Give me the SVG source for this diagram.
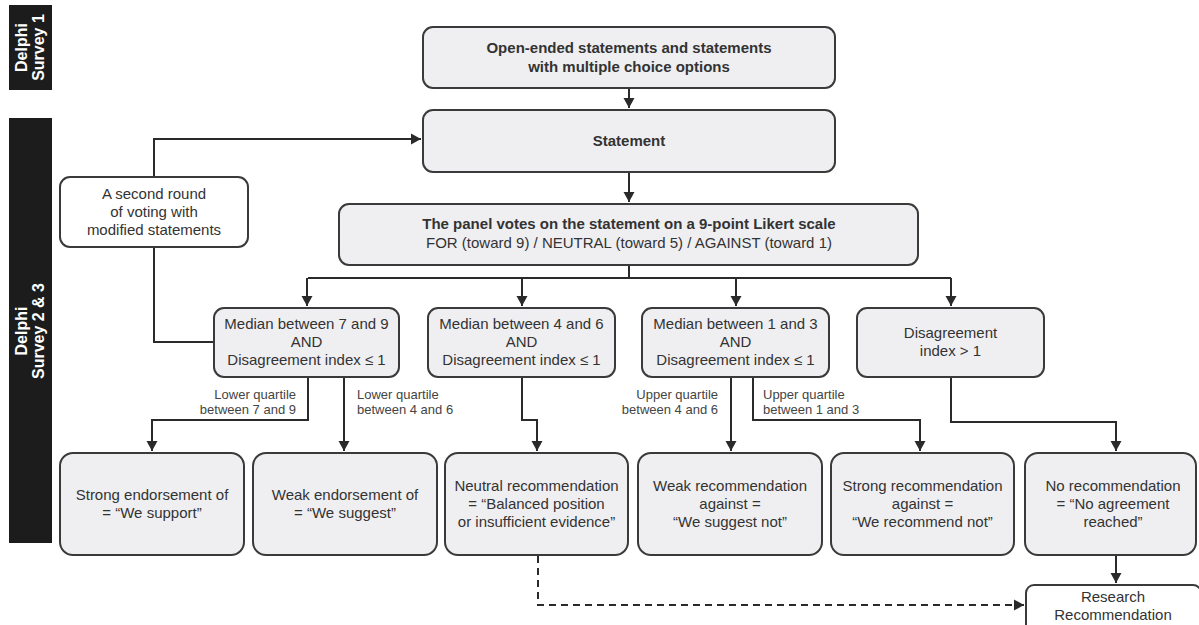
<svg xmlns="http://www.w3.org/2000/svg" width="1199" height="625" viewBox="0 0 1199 625">
<style>
.box{fill:#efeff2;stroke:#3a3a3a;stroke-width:2}
.wbox{fill:#ffffff;stroke:#3a3a3a;stroke-width:2}
.bar{fill:#1c1c1c}
.t{font-family:"Liberation Sans",Arial,sans-serif;font-size:15px;fill:#333;text-anchor:middle}
.b{font-weight:bold}
.bt{font-family:"Liberation Sans",Arial,sans-serif;font-size:16px;font-weight:bold;fill:#fff;text-anchor:middle}
.lbl{font-family:"Liberation Sans",Arial,sans-serif;font-size:13px;fill:#444}
.c{fill:none;stroke:#2a2a2a;stroke-width:2}
.d{fill:none;stroke:#2a2a2a;stroke-width:2;stroke-dasharray:7,5}
</style>
<defs>
<marker id="ah" markerUnits="userSpaceOnUse" markerWidth="12" markerHeight="12" refX="10" refY="6" orient="auto">
<path d="M0,0.5 L10,6 L0,11.5 z" fill="#2a2a2a"/>
</marker>
</defs>
<rect width="1199" height="625" fill="#fff"/>

<g id="bar1">
<rect class="bar" x="9" y="5" width="43" height="85"/>
<text class="bt" transform="translate(30,47.5) rotate(-90)"><tspan x="0" y="-3.5">Delphi</tspan><tspan x="0" y="13.5">Survey 1</tspan></text>
</g>
<g id="bar2">
<rect class="bar" x="9" y="118" width="43" height="425"/>
<text class="bt" transform="translate(30,331) rotate(-90)"><tspan x="0" y="-3.5">Delphi</tspan><tspan x="0" y="13.5">Survey 2 &amp; 3</tspan></text>
</g>

<g id="connectors">
<path class="c" d="M629 88 V108" marker-end="url(#ah)"/>
<path class="c" d="M629 172 V202" marker-end="url(#ah)"/>
<path class="c" d="M629 265 V278 M308 278 H951"/>
<path class="c" d="M307 278 V306" marker-end="url(#ah)"/>
<path class="c" d="M522 278 V306" marker-end="url(#ah)"/>
<path class="c" d="M736 278 V306" marker-end="url(#ah)"/>
<path class="c" d="M951 278 V306" marker-end="url(#ah)"/>
<path class="c" d="M213 342 H154 V247"/>
<path class="c" d="M154 177 V139 H421" marker-end="url(#ah)"/>
<path class="c" d="M308 377 V420 H152 V451" marker-end="url(#ah)"/>
<path class="c" d="M344 377 V451" marker-end="url(#ah)"/>
<path class="c" d="M522 377 V420 H537 V451" marker-end="url(#ah)"/>
<path class="c" d="M731 377 V451" marker-end="url(#ah)"/>
<path class="c" d="M753 377 V420 H920 V451" marker-end="url(#ah)"/>
<path class="c" d="M951 377 V422 H1116 V451" marker-end="url(#ah)"/>
<path class="c" d="M1116 555 V583" marker-end="url(#ah)"/>
<path class="d" d="M538 556 V605 H1024" marker-end="url(#ah)"/>
</g>

<g id="labels">
<text class="lbl" text-anchor="end" x="296" y="399">Lower quartile</text>
<text class="lbl" text-anchor="end" x="296" y="414">between 7 and 9</text>
<text class="lbl" x="357" y="399">Lower quartile</text>
<text class="lbl" x="357" y="414">between 4 and 6</text>
<text class="lbl" text-anchor="end" x="718" y="399">Upper quartile</text>
<text class="lbl" text-anchor="end" x="718" y="414">between 4 and 6</text>
<text class="lbl" x="763" y="399">Upper quartile</text>
<text class="lbl" x="763" y="414">between 1 and 3</text>
</g>

<g id="n-open">
<rect class="box" x="423" y="27" width="412" height="61" rx="10"/>
<text class="t b" x="629" y="53">Open-ended statements and statements</text>
<text class="t b" x="629" y="72">with multiple choice options</text>
</g>
<g id="n-statement">
<rect class="box" x="423" y="110" width="412" height="62" rx="10"/>
<text class="t b" x="629" y="146">Statement</text>
</g>
<g id="n-second">
<rect class="wbox" x="60" y="177" width="188" height="70" rx="10"/>
<text class="t" x="154" y="199">A second round</text>
<text class="t" x="154" y="217">of voting with</text>
<text class="t" x="154" y="235">modified statements</text>
</g>
<g id="n-panel">
<rect class="box" x="339" y="204" width="579" height="61" rx="10"/>
<text class="t b" x="629" y="229">The panel votes on the statement on a 9-point Likert scale</text>
<text class="t" x="629" y="248">FOR (toward 9) / NEUTRAL (toward 5) / AGAINST (toward 1)</text>
</g>
<g id="n-med79">
<rect class="box" x="214" y="308" width="185" height="69" rx="10"/>
<text class="t" x="306.5" y="329">Median between 7 and 9</text>
<text class="t" x="306.5" y="347">AND</text>
<text class="t" x="306.5" y="365">Disagreement index ≤ 1</text>
</g>
<g id="n-med46">
<rect class="box" x="428" y="308" width="187" height="69" rx="10"/>
<text class="t" x="521.5" y="329">Median between 4 and 6</text>
<text class="t" x="521.5" y="347">AND</text>
<text class="t" x="521.5" y="365">Disagreement index ≤ 1</text>
</g>
<g id="n-med13">
<rect class="box" x="642" y="308" width="187" height="69" rx="10"/>
<text class="t" x="735.5" y="329">Median between 1 and 3</text>
<text class="t" x="735.5" y="347">AND</text>
<text class="t" x="735.5" y="365">Disagreement index ≤ 1</text>
</g>
<g id="n-disagree">
<rect class="box" x="857" y="308" width="187" height="69" rx="10"/>
<text class="t" x="950.5" y="338">Disagreement</text>
<text class="t" x="950.5" y="356">index &gt; 1</text>
</g>
<g id="n-strong-end">
<rect class="box" x="60" y="453" width="184" height="102" rx="13"/>
<text class="t" x="152" y="500">Strong endorsement of</text>
<text class="t" x="152" y="518">= “We support”</text>
</g>
<g id="n-weak-end">
<rect class="box" x="253" y="453" width="184" height="102" rx="13"/>
<text class="t" x="345" y="500">Weak endorsement of</text>
<text class="t" x="345" y="518">= “We suggest”</text>
</g>
<g id="n-neutral">
<rect class="box" x="445" y="453" width="183" height="102" rx="13"/>
<text class="t" x="536.5" y="491">Neutral recommendation</text>
<text class="t" x="536.5" y="509">= “Balanced position</text>
<text class="t" x="536.5" y="527">or insufficient evidence”</text>
</g>
<g id="n-weak-rec">
<rect class="box" x="638" y="453" width="184" height="102" rx="13"/>
<text class="t" x="730" y="491">Weak recommendation</text>
<text class="t" x="730" y="509">against =</text>
<text class="t" x="730" y="527">“We suggest not”</text>
</g>
<g id="n-strong-rec">
<rect class="box" x="831" y="453" width="183" height="102" rx="13"/>
<text class="t" x="922.5" y="491">Strong recommendation</text>
<text class="t" x="922.5" y="509">against =</text>
<text class="t" x="922.5" y="527">“We recommend not”</text>
</g>
<g id="n-norec">
<rect class="box" x="1025" y="453" width="171" height="102" rx="13"/>
<text class="t" x="1113" y="491">No recommendation</text>
<text class="t" x="1113" y="509">= “No agreement</text>
<text class="t" x="1113" y="527">reached”</text>
</g>
<g id="n-research">
<rect class="wbox" x="1026" y="585" width="175" height="50" rx="8"/>
<text class="t" x="1113" y="602">Research</text>
<text class="t" x="1113" y="620">Recommendation</text>
</g>
</svg>
